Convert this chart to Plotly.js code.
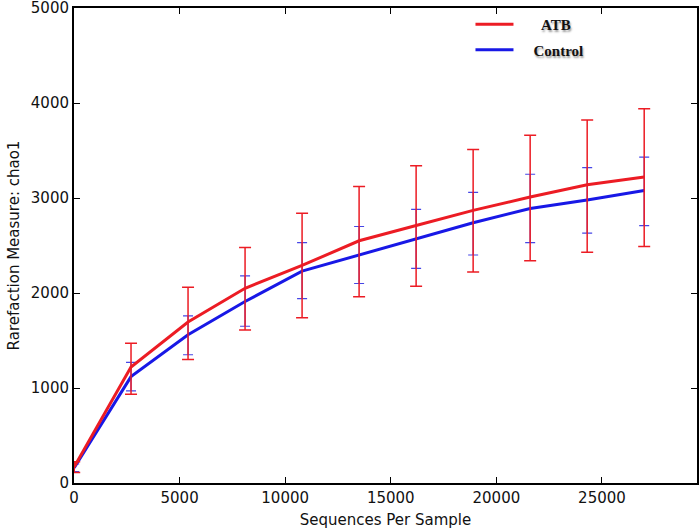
<!DOCTYPE html>
<html>
<head>
<meta charset="utf-8">
<script src="https://cdn.plot.ly/plotly-3.0.1.min.js"></script>
<style>
  html, body { margin: 0; padding: 0; background: #fff; }
  #plot { width: 700px; height: 532px; }
</style>
</head>
<body>
<div id="plot"></div>
<script>
// sequences per sample (rarefaction depths)
var depths = [10, 2700, 5400, 8100, 10800, 13500, 16200, 18900, 21600, 24300, 27000];

// ATB chao1 mean and error bar ends
var atbMean  = [170, 1220, 1695, 2050, 2290, 2550, 2710, 2870, 3010, 3140, 3220];
var atbHigh  = [225, 1470, 2060, 2480, 2840, 3120, 3340, 3510, 3660, 3820, 3940];
var atbLow   = [110,  935, 1300, 1610, 1740, 1960, 2070, 2220, 2340, 2430, 2490];

// Control chao1 mean and error bar ends
var ctlMean  = [160, 1120, 1560, 1910, 2230, 2400, 2570, 2740, 2890, 2980, 3080];
var ctlHigh  = [200, 1270, 1760, 2180, 2530, 2700, 2880, 3060, 3250, 3320, 3430];
var ctlLow   = [120,  970, 1350, 1650, 1940, 2100, 2260, 2400, 2530, 2630, 2710];

// axis ticks
var xTicks = [0, 5000, 10000, 15000, 20000, 25000];
var yTicks = [0, 1000, 2000, 3000, 4000, 5000];

function diff(a, b) { return a.map((v, i) => Math.abs(v - b[i])); }

const red = 'rgb(236,28,36)';
const blue = 'rgb(24,24,230)';
const nb = '\u00a0';

// control first so ATB sits on top
const traceCtl = {
    x: depths,
    y: ctlMean,
    type: 'scatter',
    mode: 'lines',
    name: nb.repeat(4) + 'Control',
    legendgroup: 'ctl',
    legendrank: 2,
    line: { color: blue, width: 3 },
    error_y: {
        type: 'data',
        symmetric: false,
        array: diff(ctlHigh, ctlMean),
        arrayminus: diff(ctlMean, ctlLow),
        color: 'rgb(70,70,230)',
        thickness: 1.2,
        width: 5
    }
};

const traceAtb = {
    x: depths,
    y: atbMean,
    type: 'scatter',
    mode: 'lines',
    name: nb.repeat(6) + 'ATB',
    legendgroup: 'atb',
    legendrank: 1,
    line: { color: red, width: 3 },
    error_y: {
        type: 'data',
        symmetric: false,
        array: diff(atbHigh, atbMean),
        arrayminus: diff(atbMean, atbLow),
        color: red,
        thickness: 1.5,
        width: 6
    }
};

const axisFont = { family: 'DejaVu Sans, sans-serif', size: 15, color: '#111' };

const layout = {
    width: 700,
    height: 532,
    paper_bgcolor: '#fff',
    plot_bgcolor: '#fff',
    showlegend: true,
    legend: {
        x: 0.6364,
        y: 1.0,
        xanchor: 'left',
        yanchor: 'top',
        bgcolor: 'rgba(0,0,0,0)',
        traceorder: 'grouped',
        tracegroupgap: 3,
        itemwidth: 38,
        font: {
            family: 'Liberation Serif, Times New Roman, serif',
            size: 15,
            weight: 'bold',
            color: '#111',
            shadow: '1px 2px 2px #999'
        }
    },
    xaxis: {
        range: [0, 29500],
        tickvals: xTicks,
        ticktext: xTicks.map(String),
        ticks: 'inside',
        ticklen: 6,
        tickcolor: '#000',
        showline: true,
        linecolor: '#000',
        linewidth: 2,
        mirror: 'ticks',
        showgrid: false,
        zeroline: false,
        tickfont: axisFont,
        title: { text: 'Sequences Per Sample', font: axisFont, standoff: 8 }
    },
    yaxis: {
        range: [0, 5000],
        tickvals: yTicks,
        ticktext: yTicks.map(String),
        ticks: 'inside',
        ticklen: 6,
        tickcolor: '#000',
        showline: true,
        linecolor: '#000',
        linewidth: 2,
        mirror: 'ticks',
        showgrid: false,
        zeroline: false,
        ticklabeloverflow: 'allow',
        tickfont: axisFont,
        title: { text: 'Rarefaction Measure: chao1', font: axisFont, standoff: 8 }
    },
    margin: { l: 74, r: 3, t: 8, b: 49 }
};

Plotly.newPlot('plot', [traceCtl, traceAtb], layout, { displayModeBar: false, staticPlot: true });
</script>
</body>
</html>
